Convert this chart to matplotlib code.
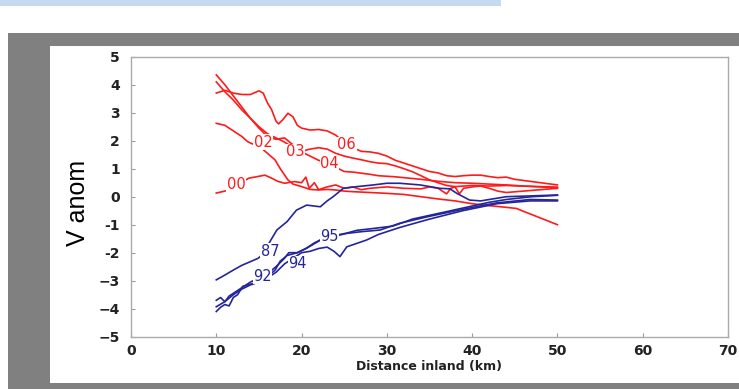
import matplotlib
matplotlib.use('agg')
from matplotlib import pyplot as plt
from matplotlib.patches import Rectangle

# red curves (recent years), x = distance inland (km), y = V anom
r06_x = [10, 11, 12, 13, 14, 15, 15.5, 16, 16.5, 17, 17.3, 17.8, 18.4, 19, 19.5, 20, 21, 22, 23, 24, 25,
         26, 27, 28, 29, 30, 31, 32, 33, 34, 35, 36, 37, 38, 39, 40, 41, 42, 43, 44, 45, 46, 47, 48, 49, 50]
r06_y = [3.7, 3.8, 3.7, 3.65, 3.65, 3.78, 3.7, 3.35, 3.1, 2.7, 2.6, 2.75, 2.98, 2.85, 2.55, 2.45, 2.38, 2.4, 2.35, 2.2, 1.95,
         1.75, 1.62, 1.6, 1.55, 1.45, 1.3, 1.2, 1.1, 1.0, 0.9, 0.85, 0.75, 0.72, 0.75, 0.77, 0.77, 0.72, 0.68, 0.7, 0.62,
         0.58, 0.54, 0.5, 0.46, 0.42]
r04_x = [10, 11, 12, 13, 14, 15, 16, 17, 18, 19, 20, 21, 22, 23, 24, 25, 26, 27, 28, 29, 30, 31, 32, 34, 36, 38, 40,
         42, 44, 46, 48, 50]
r04_y = [4.35, 4.0, 3.6, 3.2, 2.8, 2.45, 2.15, 2.05, 2.1, 1.85, 1.6, 1.45, 1.3, 1.2, 1.05, 0.9, 0.88, 0.84, 0.8, 0.75,
         0.73, 0.71, 0.68, 0.62, 0.55, 0.5, 0.48, 0.45, 0.42, 0.38, 0.36, 0.34]
r03_x = [10, 11, 12, 13, 14, 15, 16, 17, 18, 19, 20, 21, 22, 23, 24, 25, 26, 27, 28, 29, 30, 31, 32, 33, 34, 35, 36,
         37, 38, 40, 42, 44, 46, 48, 50]
r03_y = [4.1, 3.75, 3.45, 3.1, 2.8, 2.5, 2.25, 2.1, 1.95, 1.75, 1.62, 1.7, 1.75, 1.7, 1.55, 1.45, 1.38, 1.32, 1.25, 1.2,
         1.18, 1.1, 1.0, 0.89, 0.75, 0.6, 0.5, 0.4, 0.36, 0.4, 0.38, 0.4, 0.38, 0.35, 0.32]
r02_x = [10, 11, 12, 13, 13.7, 14.5, 15.3, 16, 16.9, 17.5, 18.4, 19, 20, 21, 22, 23, 24, 25, 26, 28, 30, 32, 34, 36,
         38, 40, 42, 44, 45.2, 46, 48, 50]
r02_y = [2.62, 2.55, 2.35, 2.15, 1.96, 1.85, 1.73, 1.55, 1.31, 1.0, 0.6, 0.45, 0.36, 0.26, 0.24, 0.26, 0.24, 0.2, 0.18,
         0.15, 0.12, 0.08, 0.0, -0.08, -0.15, -0.25, -0.32, -0.38, -0.42, -0.52, -0.76, -1.0]
r00_x = [10, 11, 11.5, 13.8, 14.5, 15.7, 16.5, 17.2, 18, 19.2, 20, 20.5, 20.9, 21.5, 22, 23, 24, 25, 26, 27, 28, 30,
         32, 34, 35, 36, 37, 37.5, 38, 38.5, 39, 40, 41, 42, 43, 44, 46, 48, 50]
r00_y = [0.13, 0.2, 0.25, 0.66, 0.7, 0.77, 0.66, 0.55, 0.48, 0.54, 0.5, 0.7, 0.3, 0.5, 0.25, 0.35, 0.42, 0.3, 0.35,
         0.25, 0.3, 0.35, 0.3, 0.28, 0.35, 0.3, 0.1, 0.3, 0.35, 0.1, 0.3, 0.35, 0.38, 0.3, 0.2, 0.15, 0.2, 0.25, 0.3]

# blue curves (earlier years)
b87_x = [10, 11, 12, 13, 14, 14.9, 15.5, 16.3, 17.1, 18.3, 19.4, 20.6, 21.4, 22.2, 23, 23.7, 24.9, 26.5, 28.4, 30,
         31.5, 33.9, 36.2, 37.4, 38.2, 39.7, 41, 42, 44, 46, 48, 50]
b87_y = [-2.97, -2.8, -2.62, -2.45, -2.32, -2.2, -2.05, -1.6, -1.19, -0.89, -0.48, -0.3, -0.33, -0.36, -0.15, 0.0,
         0.3, 0.36, 0.42, 0.48, 0.48, 0.42, 0.3, 0.28, 0.12, -0.12, -0.15, -0.1, 0.0, 0.02, 0.04, 0.06]
b92_x = [10, 10.5, 11, 11.5, 12, 12.5, 13.1, 14.3, 15, 15.5, 16.2, 16.9, 17.5, 18.3, 19.5, 20.6, 22.2, 23, 24, 25.3,
         27, 29.2, 31.5, 35, 38.9, 42.9, 46.8, 50]
b92_y = [-4.1, -3.95, -3.85, -3.9, -3.6, -3.5, -3.2, -3.1, -3.0, -2.95, -2.8, -2.62, -2.3, -2.1, -2.0, -1.84, -1.55,
         -1.45, -1.4, -1.31, -1.25, -1.19, -0.95, -0.7, -0.45, -0.22, -0.1, -0.12]
b94_x = [10, 11, 12, 13, 14, 15, 16, 17, 18, 19, 20, 21, 22, 23, 23.8, 24.5, 25.3, 27.6, 29, 31.5, 35, 38.9, 42.9,
         46.8, 50]
b94_y = [-3.93, -3.75, -3.5, -3.3, -3.15, -3.05, -2.9, -2.7, -2.4, -2.2, -2.0, -1.95, -1.85, -1.8, -1.95, -2.14,
         -1.79, -1.55, -1.35, -1.1, -0.8, -0.5, -0.25, -0.15, -0.15]
b95_x = [10, 10.5, 11, 11.5, 12, 13, 14, 15, 16, 17, 18, 18.5, 19.5, 20.5, 21.5, 22.5, 23.2, 24.5, 25.3, 26.5, 28,
         30.7, 33, 36, 39, 42, 44, 47, 50]
b95_y = [-3.7, -3.6, -3.75, -3.55, -3.45, -3.25, -3.05, -2.9, -2.75, -2.5, -2.2, -2.0, -2.0, -1.85, -1.65, -1.5, -1.4,
         -1.35, -1.3, -1.2, -1.15, -1.05, -0.8, -0.6, -0.4, -0.2, -0.1, 0.0, 0.05]

# year labels placed on the curves
red_labels = ['02', '03', '04', '06', '00']
red_lx = [15.5, 19.3, 23.3, 25.3, 12.3]
red_ly = [1.95, 1.6, 1.17, 1.85, 0.45]
blue_labels = ['87', '92', '94', '95']
blue_lx = [16.3, 15.4, 19.5, 23.3]
blue_ly = [-1.94, -2.84, -2.4, -1.43]

xticks = [0, 10, 20, 30, 40, 50, 60, 70]
yticks = [-5, -4, -3, -2, -1, 0, 1, 2, 3, 4, 5]
ytick_labels = ['\u22125', '\u22124', '\u22123', '-2', '-1', '0', '1', '2', '3', '4', '5']

RED = '#ff1a1a'
BLUE = '#25259a'

fig = plt.figure(figsize=(7.39, 3.89), dpi=100)
W, H = 739.0, 389.0

def px_rect(x0, y0, x1, y1, color):
    # rectangle given in pixel coords, origin at top-left
    fig.patches.append(Rectangle((x0 / W, 1 - y1 / H), (x1 - x0) / W, (y1 - y0) / H,
                                 transform=fig.transFigure, facecolor=color, edgecolor='none', zorder=-10))

px_rect(0, 0, 501, 6, '#c6d9f1')
px_rect(8, 33, 739, 389, '#808080')
px_rect(50, 46, 739, 383, 'white')

ax = fig.add_axes([131 / W, 1 - 336.7 / H, (728 - 131) / W, (336.7 - 56.7) / H])

for xs, ys in [(r06_x, r06_y), (r04_x, r04_y), (r03_x, r03_y), (r02_x, r02_y), (r00_x, r00_y)]:
    ax.plot(xs, ys, color=RED, lw=1.2)
for xs, ys in [(b87_x, b87_y), (b92_x, b92_y), (b94_x, b94_y), (b95_x, b95_y)]:
    ax.plot(xs, ys, color=BLUE, lw=1.2)

for s, x, y in zip(red_labels, red_lx, red_ly):
    ax.text(x, y, s, color=RED, fontsize=10.5, family='DejaVu Sans', ha='center', va='center',
            bbox=dict(facecolor='white', edgecolor='none', pad=0.3))
for s, x, y in zip(blue_labels, blue_lx, blue_ly):
    ax.text(x, y, s, color=BLUE, fontsize=10.5, family='DejaVu Sans', ha='center', va='center',
            bbox=dict(facecolor='white', edgecolor='none', pad=0.3))

ax.set_xlim(0, 70)
ax.set_ylim(-5, 5)
ax.set_xticks(xticks)
ax.set_yticks(yticks)
ax.set_yticklabels(ytick_labels)
ax.tick_params(direction='in', length=3, color='#999999', labelsize=10, pad=5)
ax.tick_params(axis='y', pad=8)
for lab in ax.get_xticklabels() + ax.get_yticklabels():
    lab.set_fontweight('bold')
    lab.set_color('#222222')
for sp in ax.spines.values():
    sp.set_color('#aaaaaa')
    sp.set_linewidth(1.0)

ax.set_xlabel('Distance inland (km)', fontsize=9, fontweight='bold', color='#222222', labelpad=2)
fig.text(78 / W, 1 - 203 / H, 'V anom', rotation=90, fontsize=18, family='Liberation Sans',
         ha='center', va='center')

plt.savefig('out.png', dpi=100)
